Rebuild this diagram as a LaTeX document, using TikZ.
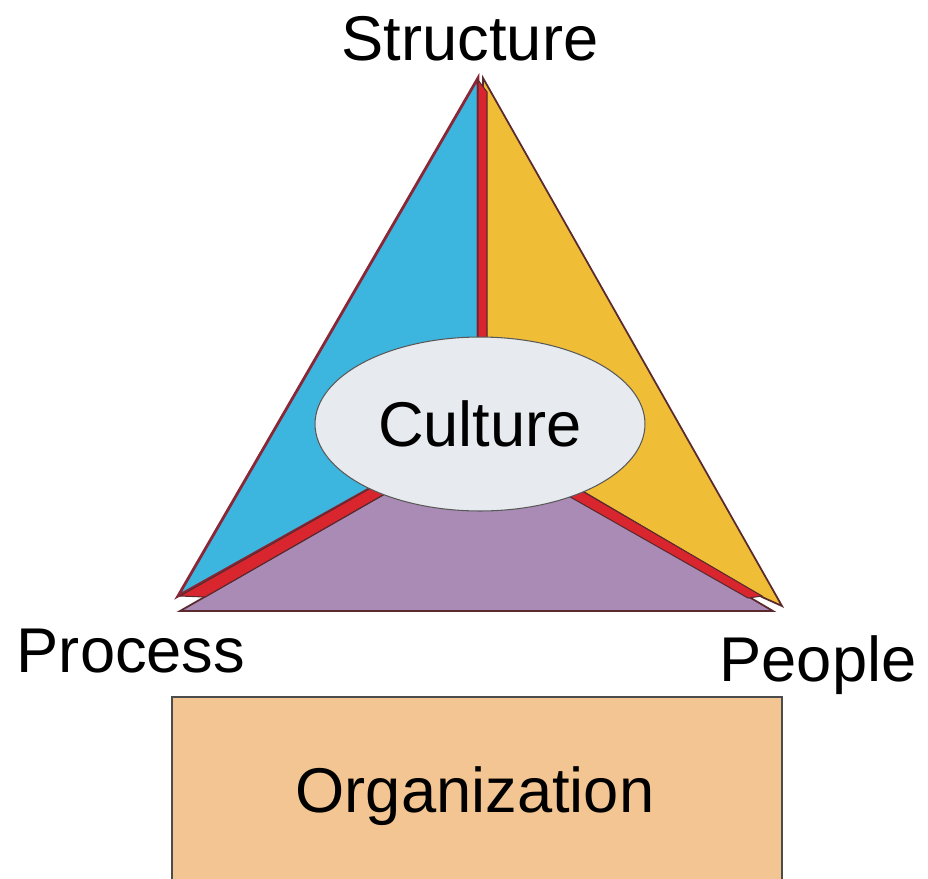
\documentclass[tikz,border=0pt]{standalone}
\usepackage{fontspec}
\setmainfont{Liberation Sans}
\usepackage{xcolor}
\usetikzlibrary{shapes.geometric}
\definecolor{sideblue}{HTML}{3DB6DF}
\definecolor{sideyellow}{HTML}{EFBE36}
\definecolor{sidepurple}{HTML}{AA8BB6}
\definecolor{seamred}{HTML}{D9262E}
\definecolor{edgedark}{HTML}{5A2A2E}
\definecolor{edgered}{HTML}{8A2636}
\definecolor{culturefill}{HTML}{E7EBEF}
\definecolor{orgfill}{HTML}{F2C592}

\begin{document}
\begin{tikzpicture}[
    x=0.02cm, y=-0.02cm,
    bigtext/.style={font=\fontsize{36}{42}\selectfont},
    label/.style={bigtext, anchor=base, inner sep=0pt},
    side/.style={draw=edgedark, line width=1pt, line join=miter},
    seam/.style={fill=seamred, draw=edgedark, line width=0.6pt}
  ]
    \useasboundingbox (0,0) rectangle (928,878);
    \clip (0,0) rectangle (928,878);

    % three sides of the triangle
    \path[fill=sideblue, side, draw=edgered, line width=1.6pt] (478,78) -- (178,596) -- (392,476) -- (478,400) -- cycle;
    \path[fill=sideyellow, side] (483,78) -- (782,606) -- (762,597) -- (570,484) -- (487,400) -- cycle;
    \path[fill=sidepurple, side] (180,611) -- (773,611) -- (570,492) -- (480,470) -- (400,485) -- cycle;

    % red seams
    \path[seam] (478,80) -- (487,92) -- (487,380) -- (478,380) -- cycle;
    \path[seam] (180,596) -- (385,480) -- (395,488) -- (205,597) -- cycle;
    \path[seam] (570,484) -- (762,596) -- (748,598) -- (565,494) -- cycle;

    \node[ellipse, draw=gray!70!black, fill=culturefill, line width=0.6pt, bigtext,
          minimum width=6.6cm, minimum height=3.48cm, inner sep=0pt] (culture) at (480,424) {Culture};

    \node[label] (structure) at (470,61) {Structure};
    \node[label] (process) at (131,672) {Process};
    \node[label] (people) at (818,681) {People};

    \draw[fill=orgfill, draw=gray!60!black, line width=1pt] (172,697) rectangle (782,900);
    \node[label] (organization) at (475,812) {Organization};
  \end{tikzpicture}
\end{document}
